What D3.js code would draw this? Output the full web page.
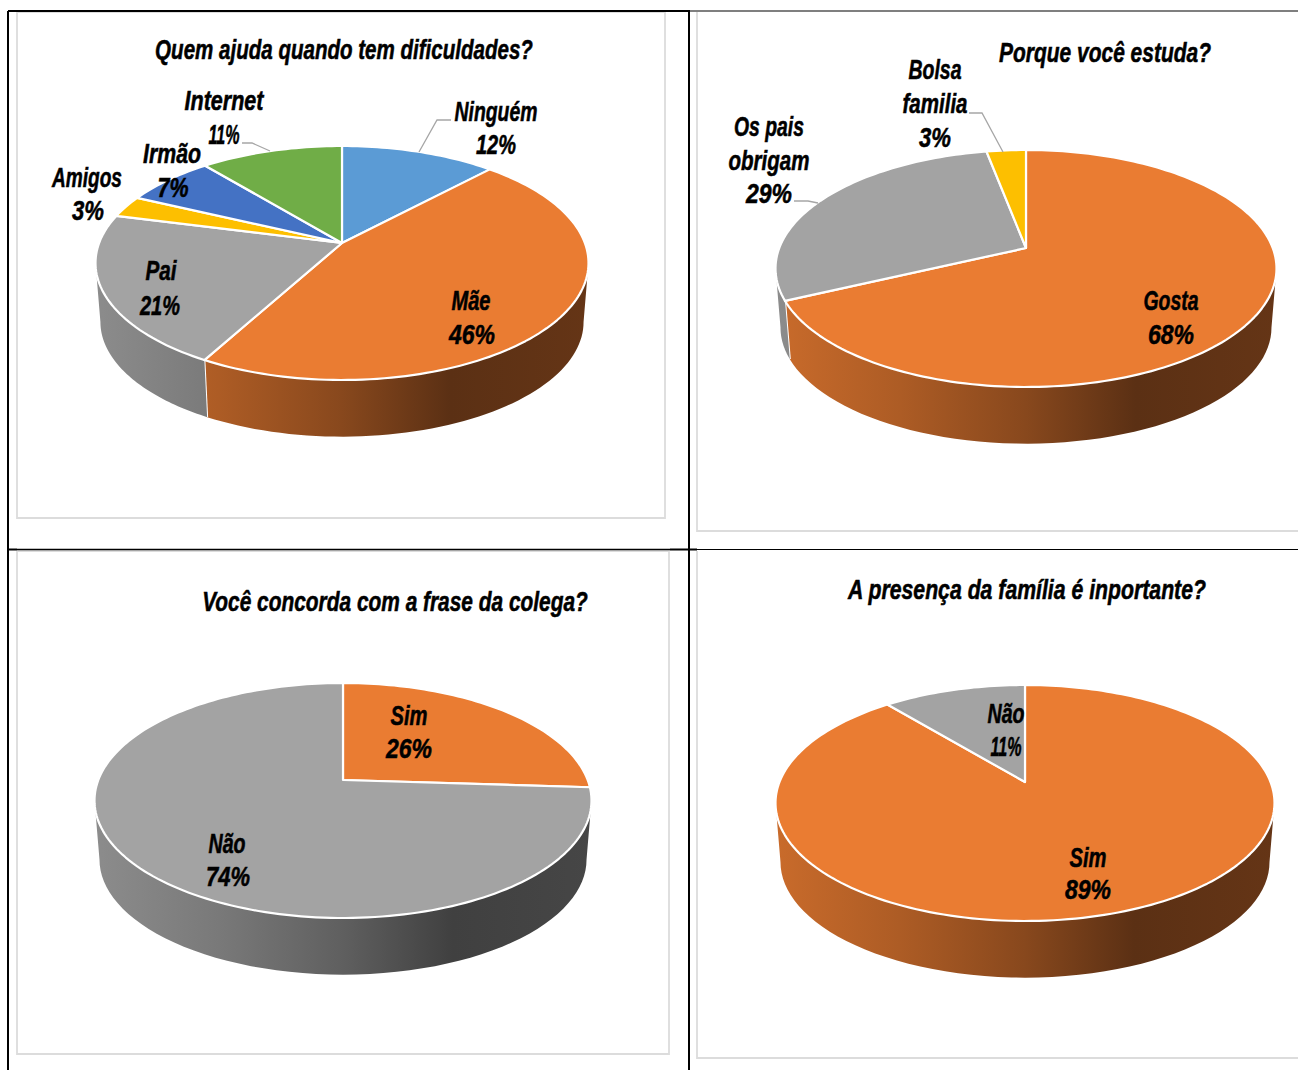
<!DOCTYPE html><html><head><meta charset="utf-8"><script src="https://cdn.jsdelivr.net/npm/d3@7"></script><style>html,body{margin:0;background:#fff}svg{display:block}text{font-family:"Liberation Sans";font-style:italic;font-weight:700;fill:#000;stroke:#000;stroke-width:.55px}</style></head><body><svg id="c" width="1298" height="1070"></svg><script>
// Survey answers, one pair of arrays per question
const helpCats=["Ninguém","Mãe","Pai","Amigos","Irmão","Internet"];
const helpVals=[12,46,21,3,7,11];
const whyCats=["Gosta","Os pais obrigam","Bolsa família"];
const whyVals=[68,29,3];
const agreeCats=["Sim","Não"];
const agreeVals=[26,74];
const famCats=["Sim","Não"];
const famVals=[89,11];

const BLUE="#5b9bd5",ORANGE="#ea7c32",GRAY="#a3a3a3",YELLOW="#fdbf00",ROYAL="#4472c4",GREEN="#70ad47";
const svg=d3.select("#c"),defs=svg.append("defs");

// Text squeezed horizontally to a set width so the wide sans reads as a condensed face
function label(x,y,str,w,size){
  const t=svg.append("text").attr("text-anchor","middle").attr("font-size",size).text(str);
  const sx=w/t.node().getComputedTextLength();
  t.attr("transform",`translate(${x},${y}) scale(${sx},1)`);
}
function leader(pts){
  svg.append("path").attr("d",d3.line()(pts)).attr("fill","none").attr("stroke","#a6a6a6").attr("stroke-width",1.3);
}

// Light chart frames, with the table rules on top of them
[[17,12,665,518],[697,12,1298,531],[17,551,669,1054],[697,551,1298,1058]].forEach(f=>{
  svg.append("path").attr("d",`M${f[0]},${f[1]}V${f[3]}H${f[2]}${f[2]<1298?`V${f[1]}H${f[0]}`:""}`).attr("fill","none").attr("stroke","#dcdcdc").attr("stroke-width",1.8);
});
const rules=[[8,11,690,11,1.8],[690,11,1298,11,1.2],[8,11,8,1070,2],[689,11,689,1070,2],[8,549.5,17,549.5,2],[17,549.5,670,549.5,1.3],[670,549.5,697,549.5,2],[697,549.5,1298,549.5,1.2]];
rules.forEach(r=>svg.append("line").attr("x1",r[0]).attr("y1",r[1]).attr("x2",r[2]).attr("y2",r[3]).attr("stroke","#000").attr("stroke-width",r[4]));

// Tilted disc: the circle is projected so that its centre lands on the apex
function drawPie(o){
  const k=(o.bottom-o.ay-(o.ay-o.top))/((o.bottom-o.ay)+(o.ay-o.top));
  const B=(o.ay-o.top)*(1+k), A=(o.right-o.left)/2*Math.sqrt(1-k*k);
  const ex=(o.left+o.right)/2, ey=(o.top+o.bottom)/2, s=.98, drop=o.drop;
  const top=t=>{const u=Math.sin(t),v=Math.cos(t),w=1+k*v;return [o.ax+A*u/w,o.ay-B*v/w];};
  const low=t=>{const p=top(t);return [ex+s*(p[0]-ex),ey+s*(p[1]-ey)+drop];};
  const arcs=d3.pie().sort(null)(o.vals);
  const tRight=Math.acos(-k), tLeft=2*Math.PI-tRight;
  const gid="g"+o.id;
  arcs.forEach((a,i)=>{
    const g=defs.append("linearGradient").attr("id",gid+i).attr("gradientUnits","userSpaceOnUse")
      .attr("x1",o.left).attr("x2",o.right).attr("y1",0).attr("y2",0);
    shade(o.colors[i]).forEach(st=>g.append("stop").attr("offset",st[0]).attr("stop-color",st[1]));
  });
  // Side wall first, only where the rim faces the viewer
  arcs.forEach((a,i)=>{
    const t0=Math.max(a.startAngle,tRight), t1=Math.min(a.endAngle,tLeft);
    if(t1<=t0) return;
    const ts=d3.range(0,61).map(j=>t0+(t1-t0)*j/60);
    const pts=ts.map(top).concat(ts.slice().reverse().map(low));
    svg.append("path").attr("d",d3.line()(pts)+"Z").attr("fill",`url(#${gid}${i})`);
    if(a.endAngle<tLeft) svg.append("path").attr("d",d3.line()([top(a.endAngle),low(a.endAngle)])).attr("stroke","#fff").attr("stroke-width",2).attr("fill","none");
  });
  // Top face
  arcs.forEach((a,i)=>{
    const n=Math.max(4,Math.ceil((a.endAngle-a.startAngle)*40));
    const pts=[[o.ax,o.ay]].concat(d3.range(0,n+1).map(j=>top(a.startAngle+(a.endAngle-a.startAngle)*j/n)));
    svg.append("path").attr("d",d3.line()(pts)+"Z").attr("fill",o.colors[i]).attr("stroke","#fff").attr("stroke-width",2.2).attr("stroke-linejoin","round");
  });
}
// Side wall shading runs across the whole disc, darkest right of centre
function shade(c){
  const h=d3.rgb(c);
  const f=m=>d3.rgb(h.r*m,h.g*m,h.b*m).formatHex();
  return [[0,f(.86)],[.25,f(.74)],[.5,f(.58)],[.72,f(.39)],[1,f(.43)]];
}

drawPie({id:"a",vals:helpVals,colors:[BLUE,ORANGE,GRAY,YELLOW,ROYAL,GREEN],ax:342,ay:243,top:146,bottom:380,left:95,right:588,drop:59});
drawPie({id:"b",vals:whyVals,colors:[ORANGE,GRAY,YELLOW],ax:1026,ay:248,top:150,bottom:387,left:775,right:1276,drop:59});
drawPie({id:"c",vals:agreeVals,colors:[ORANGE,GRAY],ax:343,ay:780,top:683,bottom:918,left:95,right:592,drop:59});
drawPie({id:"d",vals:famVals,colors:[ORANGE,GRAY],ax:1025,ay:782,top:685,bottom:921,left:775,right:1274,drop:59});

// Leader lines for the labels outside the discs
leader([[419,152],[437,120],[451,120]]);
leader([[270,151],[252,143],[242,143]]);
leader([[1003,152],[982,113],[969,113]]);
leader([[818,203],[808,201],[794,201]]);

label(344,59,"Quem ajuda quando tem dificuldades?",378,28);
label(1105,62,"Porque você estuda?",212,28);
label(395,611,"Você concorda com a frase da colega?",386,28);
label(1027,599,"A presença da família é inportante?",358,28);

const pct=v=>v+"%";
// First question
label(496,121,helpCats[0],83,28); label(496,154,pct(helpVals[0]),40,28);
label(471,310,helpCats[1],39,28); label(472,344,pct(helpVals[1]),46,28);
label(161,280,helpCats[2],31,28); label(160,315,pct(helpVals[2]),40,28);
label(87,187,helpCats[3],70,28); label(88,220,pct(helpVals[3]),32,28);
label(172,163,helpCats[4],58,28); label(173,197,pct(helpVals[4]),31,28);
label(224,110,helpCats[5],79,28); label(224,144,pct(helpVals[5]),31,28);
// Second question
label(1171,310,whyCats[0],55,28); label(1171,344,pct(whyVals[0]),46,28);
label(769,136,"Os pais",70,28); label(769,170,"obrigam",81,28); label(769,203,pct(whyVals[1]),46,28);
label(935,79,"Bolsa",53,28); label(935,113,"familia",65,28); label(935,147,pct(whyVals[2]),32,28);
// Third question
label(409,725,agreeCats[0],37,28); label(409,758,pct(agreeVals[0]),46,28);
label(227,853,agreeCats[1],37,28); label(228,886,pct(agreeVals[1]),44,28);
// Fourth question
label(1088,867,famCats[0],37,28); label(1088,899,pct(famVals[0]),46,28);
label(1006,723,famCats[1],37,28); label(1006,756,pct(famVals[1]),31,28);
</script></body></html>
